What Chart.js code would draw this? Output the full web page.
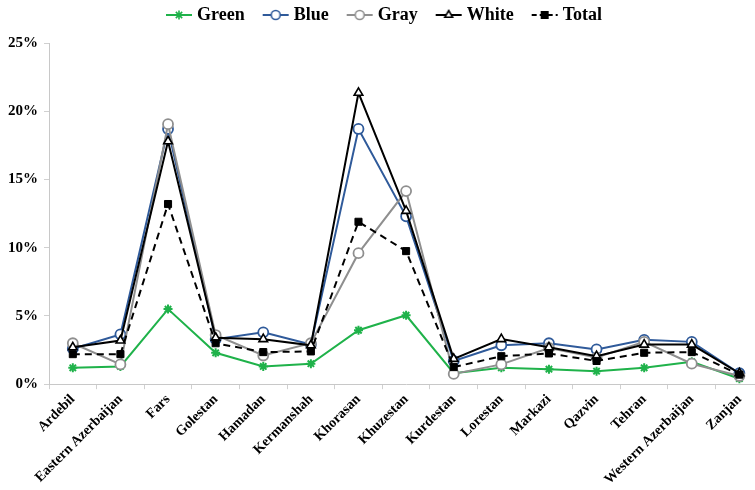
<!DOCTYPE html>
<html>
<head>
<meta charset="utf-8">
<script src="https://cdn.jsdelivr.net/npm/chart.js@4"></script>
<style>
  html, body { margin: 0; padding: 0; background: #fff; overflow: hidden; }
  #chart { display: block; }
</style>
</head>
<body>
<!-- a bit wider than the window: the source picture is cut off on the right -->
<canvas id="chart" width="770" height="490"></canvas>
<script>
// provinces on the x axis
const provinces = ['Ardebil', 'Eastern Azerbaijan', 'Fars', 'Golestan', 'Hamadan', 'Kermanshah',
    'Khorasan', 'Khuzestan', 'Kurdestan', 'Lorestan', 'Markazi', 'Qazvin', 'Tehran',
    'Western Azerbaijan', 'Zanjan'];

// shares in percent
const green = [1.2, 1.3, 5.5, 2.3, 1.3, 1.5, 3.95, 5.05, 0.8, 1.2, 1.1, 0.95, 1.2, 1.65, 0.4];
const blue  = [2.6, 3.65, 18.7, 3.3, 3.8, 2.9, 18.7, 12.3, 1.7, 2.85, 3.0, 2.55, 3.25, 3.1, 0.8];
const gray  = [3.0, 1.45, 19.05, 3.6, 2.1, 3.0, 9.6, 14.15, 0.75, 1.45, 2.65, 1.95, 3.1, 1.5, 0.6];
const white = [2.7, 3.2, 17.8, 3.4, 3.3, 2.85, 21.35, 12.7, 1.85, 3.3, 2.7, 2.05, 2.9, 2.9, 0.8];
const total = [2.2, 2.2, 13.2, 3.0, 2.35, 2.4, 11.9, 9.75, 1.25, 2.05, 2.25, 1.7, 2.3, 2.35, 0.7];

const yTicks = [0, 5, 10, 15, 20, 25];

const FONT = '"Liberation Serif", "Times New Roman", serif';
const C_GREEN = '#1fb24a';
const C_BLUE = '#2f5a9a';
const C_GRAY = '#8f8f8f';

// small picture of line + marker for the legend
function legendIcon(style, color, fill, dash) {
    const c = document.createElement('canvas');
    c.width = 28; c.height = 14;
    const g = c.getContext('2d');
    g.strokeStyle = color;
    g.lineWidth = 2;
    if (dash) g.setLineDash(dash);
    g.beginPath(); g.moveTo(1, 7); g.lineTo(27, 7); g.stroke();
    g.setLineDash([]);
    g.fillStyle = fill;
    g.lineWidth = 1.6;
    Chart.helpers.drawPoint(g, { pointStyle: style, radius: 4.5, borderWidth: 1.6 }, 14, 7);
    return c;
}

// extra room between legend and plot
const legendGap = {
    id: 'legendGap',
    beforeInit(chart) {
        const fit = chart.legend.fit;
        chart.legend.fit = function () {
            fit.call(this);
            this.height += 9;
        };
    }
};

function makeChart() {
    const icons = [
        legendIcon('star', C_GREEN, C_GREEN),
        legendIcon('circle', C_BLUE, '#fff'),
        legendIcon('circle', C_GRAY, '#fff'),
        legendIcon('triangle', '#000', '#fff'),
        legendIcon('rect', '#000', '#000', [5, 3])
    ];

    const ctx = document.getElementById('chart').getContext('2d');
    new Chart(ctx, {
        type: 'line',
        data: {
            labels: provinces,
            datasets: [{
                label: 'Green', data: green, order: 4,
                borderColor: C_GREEN, backgroundColor: C_GREEN, borderWidth: 2,
                pointStyle: 'star', pointRadius: 4.5, pointBorderWidth: 2,
                pointBorderColor: C_GREEN, tension: 0
            }, {
                label: 'Blue', data: blue, order: 3,
                borderColor: C_BLUE, backgroundColor: '#fff', borderWidth: 2,
                pointStyle: 'circle', pointRadius: 5, pointBorderWidth: 1.8,
                pointBackgroundColor: '#fff', tension: 0
            }, {
                label: 'Gray', data: gray, order: 2,
                borderColor: C_GRAY, backgroundColor: '#fff', borderWidth: 2,
                pointStyle: 'circle', pointRadius: 5, pointBorderWidth: 1.8,
                pointBackgroundColor: '#fff', tension: 0
            }, {
                label: 'White', data: white, order: 1,
                borderColor: '#000', backgroundColor: '#fff', borderWidth: 2,
                pointStyle: 'triangle', pointRadius: 5, pointBorderWidth: 1.6,
                pointBackgroundColor: '#fff', tension: 0
            }, {
                label: 'Total', data: total, order: 0,
                borderColor: '#000', backgroundColor: '#000', borderWidth: 2,
                borderDash: [7, 5],
                pointStyle: 'rect', pointRadius: 5, pointBorderWidth: 1,
                pointBackgroundColor: '#000', tension: 0
            }]
        },
        plugins: [legendGap],
        options: {
            responsive: false,
            animation: false,
            layout: { padding: { left: 2, right: 0, top: -16, bottom: 0 } },
            plugins: {
                legend: {
                    position: 'top',
                    labels: {
                        usePointStyle: true,
                        // icon is 28px wide, the box is narrower so the text sits close
                        pointStyleWidth: 18,
                        boxHeight: 12,
                        padding: 22,
                        color: '#000',
                        font: { family: FONT, size: 18, weight: 'bold' },
                        generateLabels(chart) {
                            return chart.data.datasets.map((ds, i) => ({
                                text: ds.label,
                                pointStyle: icons[i],
                                fillStyle: '#fff',
                                strokeStyle: '#fff',
                                lineWidth: 0,
                                hidden: false,
                                datasetIndex: i,
                                fontColor: '#000'
                            }));
                        }
                    }
                },
                tooltip: { enabled: false }
            },
            scales: {
                x: {
                    offset: true,
                    grid: { display: true, drawOnChartArea: false, drawTicks: true, tickLength: 5, offset: true, color: '#d0d0d0' },
                    border: { display: true, color: '#c8c8c8' },
                    ticks: {
                        color: '#000',
                        minRotation: 45, maxRotation: 45, autoSkip: false, padding: 2,
                        font: { family: FONT, size: 14, weight: 'bold' }
                    }
                },
                y: {
                    min: 0, max: 25,
                    afterBuildTicks(scale) { scale.ticks = yTicks.map(v => ({ value: v })); },
                    grid: { display: true, drawOnChartArea: false, drawTicks: true, tickLength: 5, color: '#d0d0d0' },
                    border: { display: true, color: '#c8c8c8' },
                    ticks: {
                        color: '#000', padding: 6,
                        font: { family: FONT, size: 15, weight: 'bold' },
                        callback: v => v + '%'
                    }
                }
            }
        }
    });
}

makeChart();
</script>
</body>
</html>
